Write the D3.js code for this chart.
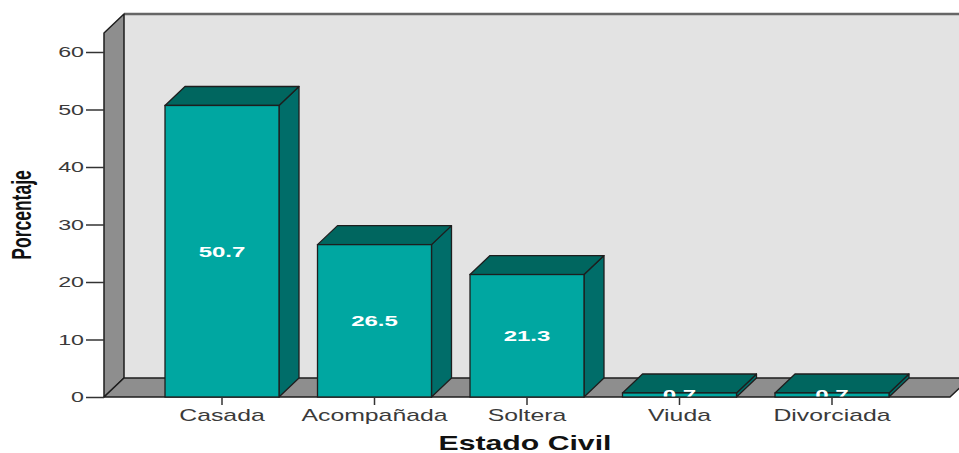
<!DOCTYPE html>
<html>
<head>
<meta charset="utf-8">
<script src="https://cdn.jsdelivr.net/npm/d3@7"></script>
<style>
  html, body { margin: 0; padding: 0; background: #ffffff; }
  svg { display: block; }
  text { font-family: Arial, "Liberation Sans", sans-serif; }
</style>
</head>
<body>
<svg id="chart" width="959" height="453"></svg>
<script>
// Estado civil de las encuestadas (porcentaje)
const categories = ["Casada", "Acompañada", "Soltera", "Viuda", "Divorciada"];
const values = [50.7, 26.5, 21.3, 0.7, 0.7];
const yTicks = [0, 10, 20, 30, 40, 50, 60];
const yTitle = "Porcentaje";
const xTitle = "Estado Civil";

const W = 959, H = 453;
const svg = d3.select("#chart");

// wide type used across the chart
const SX = 1.55;

// 3D depth offsets
const DX = 20, DY = 19;

const y = d3.scaleLinear().domain([0, 60]).range([397, 52]);
const x = d3.scaleBand()
  .domain(categories)
  .range([126.5, 927.5])
  .paddingInner(0.2525)
  .paddingOuter(0.2525);

const x0 = 104;           // front left edge of the wall
const xEnd = 950;         // front right edge of the floor
const y0 = y(0);
const yTop = y(63.3);     // top of the walls

const edge = "#1e1e1e";

// back wall
svg.append("rect")
  .attr("x", x0 + DX).attr("y", yTop - DY)
  .attr("width", W - x0 - DX + 20).attr("height", y0 - yTop)
  .attr("fill", "#e3e3e3");
svg.append("line")
  .attr("x1", x0 + DX).attr("x2", W + 5)
  .attr("y1", yTop - DY).attr("y2", yTop - DY)
  .attr("stroke", "#666").attr("stroke-width", 2.5);

// left side wall
svg.append("path")
  .attr("d", `M${x0},${y0} L${x0 + DX},${y0 - DY} L${x0 + DX},${yTop - DY} L${x0},${yTop} Z`)
  .attr("fill", "#8e8e8e").attr("stroke", edge).attr("stroke-width", 1.5)
  .attr("stroke-linejoin", "round");

// floor
svg.append("path")
  .attr("d", `M${x0},${y0} L${xEnd},${y0} L${xEnd + DX},${y0 - DY} L${x0 + DX},${y0 - DY} Z`)
  .attr("fill", "#8e8e8e").attr("stroke", edge).attr("stroke-width", 1.5)
  .attr("stroke-linejoin", "round");

// bars
const bw = x.bandwidth();
const bars = svg.append("g").selectAll("g.bar")
  .data(categories.map((c, i) => ({ c, v: values[i] })))
  .join("g").attr("class", "bar");

bars.append("path") // side face
  .attr("d", d => {
    const xr = x(d.c) + bw, yt = y(d.v);
    return `M${xr},${y0} L${xr + DX},${y0 - DY} L${xr + DX},${yt - DY} L${xr},${yt} Z`;
  })
  .attr("fill", "#006d69").attr("stroke", edge).attr("stroke-width", 1.3)
  .attr("stroke-linejoin", "round");

bars.append("path") // top face
  .attr("d", d => {
    const xl = x(d.c), xr = xl + bw, yt = y(d.v);
    return `M${xl},${yt} L${xr},${yt} L${xr + DX},${yt - DY} L${xl + DX},${yt - DY} Z`;
  })
  .attr("fill", "#00665f").attr("stroke", edge).attr("stroke-width", 1.3)
  .attr("stroke-linejoin", "round");

bars.append("rect") // front face
  .attr("x", d => x(d.c)).attr("y", d => y(d.v))
  .attr("width", bw).attr("height", d => y0 - y(d.v))
  .attr("fill", "#00a7a1").attr("stroke", edge).attr("stroke-width", 1.3);

// value labels, cut at the floor edge
svg.append("clipPath").attr("id", "aboveFloor")
  .append("rect").attr("x", 0).attr("y", 0).attr("width", W).attr("height", y0 - 0.5);

svg.append("g").attr("clip-path", "url(#aboveFloor)")
  .selectAll("text")
  .data(categories.map((c, i) => ({ c, v: values[i] })))
  .join("text")
  .attr("transform", d => `translate(${x(d.c) + bw / 2},${(y(d.v) + y0) / 2 + 5.5}) scale(${SX},1)`)
  .attr("text-anchor", "middle")
  .attr("font-size", 15.5).attr("font-weight", "bold")
  .attr("fill", "#ffffff")
  .text(d => d3.format(".1f")(d.v));

// y axis
const yAxis = svg.append("g")
  .attr("transform", `translate(${x0},0)`)
  .call(d3.axisLeft(y).tickValues(yTicks).tickSize(18).tickPadding(2).tickFormat(d3.format("d")));
yAxis.select(".domain").remove();
yAxis.selectAll(".tick line").attr("stroke", "#333").attr("stroke-width", 1.5);
yAxis.selectAll(".tick text")
  .attr("font-family", "Arial, 'Liberation Sans', sans-serif")
  .attr("font-size", 15).attr("fill", "#3a3a3a")
  .attr("x", -20 / SX)
  .attr("transform", `scale(${SX},1)`);

// x axis
const xAxis = svg.append("g")
  .attr("transform", `translate(0,${y0})`)
  .call(d3.axisBottom(x).tickSize(8).tickPadding(5));
xAxis.select(".domain").remove();
xAxis.selectAll(".tick line").attr("stroke", "#333").attr("stroke-width", 1.5);
xAxis.selectAll(".tick text")
  .attr("font-family", "Arial, 'Liberation Sans', sans-serif")
  .attr("font-size", 16).attr("fill", "#3a3a3a")
  .attr("transform", `scale(${SX},1)`);

// axis titles
svg.append("text")
  .attr("transform", `translate(525,450) scale(${SX},1)`)
  .attr("text-anchor", "middle")
  .attr("font-size", 19.5).attr("font-weight", "bold").attr("fill", "#111")
  .text(xTitle);

svg.append("text")
  .attr("transform", `translate(31,215) scale(${SX},1) rotate(-90)`)
  .attr("text-anchor", "middle")
  .attr("font-size", 17.5).attr("font-weight", "bold").attr("fill", "#111")
  .text(yTitle);
</script>
</body>
</html>
